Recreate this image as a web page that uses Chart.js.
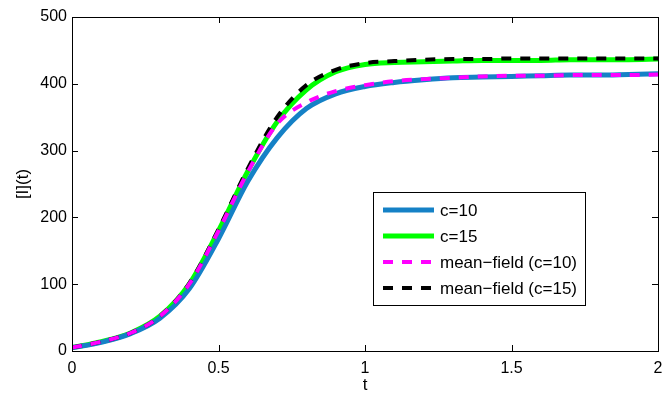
<!DOCTYPE html>
<html>
<head>
<meta charset="UTF-8">
<title>[I](t)</title>
<script src="https://cdn.jsdelivr.net/npm/chart.js"></script>
<style>
  html, body { margin: 0; padding: 0; background: #fff; }
  #wrap { width: 665px; height: 394px; }
</style>
</head>
<body>
<div id="wrap"><canvas id="chart" width="665" height="394"></canvas></div>
<script>
  // values
  const tVals = [0, 0.1, 0.2, 0.3, 0.4, 0.5, 0.6, 0.7, 0.8, 0.9, 1.0,
                 1.1, 1.2, 1.3, 1.4, 1.5, 1.6, 1.7, 1.8, 1.9, 2.0];
  const c10  = [5, 13, 26, 49, 93, 168, 254, 319, 363, 385, 396,
                402, 406, 409, 410, 411, 412, 413, 413, 414, 415];
  const c15  = [5, 14, 27, 52, 100, 180, 269, 343, 391, 418, 429,
                432, 433, 434, 435, 435, 435, 436, 436, 436, 437];
  const mf10 = [5, 14, 27, 52, 100, 180, 268, 340, 372, 389, 398,
                404, 407, 409, 411, 412, 412, 413, 413, 413, 414];
  const mf15 = [5, 14, 27, 52, 101, 182, 273, 350, 398, 421, 431,
                434, 436, 437, 437, 438, 438, 438, 438, 438, 438];
  const xTicks = [0, 0.5, 1, 1.5, 2];
  const yTicks = [0, 100, 200, 300, 400, 500];

  const FONT = '"Liberation Sans", Arial, Helvetica, sans-serif';
  const pts = arr => tVals.map((t, i) => ({ x: t, y: arr[i] }));

  // box round the plot with inward ticks on all four sides (matlab look)
  const frame = {
    id: 'frame',
    afterDatasetsDraw(chart) {
      const { ctx, chartArea: a, scales: { x, y } } = chart;
      ctx.save();
      ctx.strokeStyle = '#000';
      ctx.lineWidth = 1;
      ctx.beginPath();
      xTicks.forEach(v => {
        const px = Math.round(x.getPixelForValue(v)) + 0.5;
        ctx.moveTo(px, a.bottom); ctx.lineTo(px, a.bottom - 6);
        ctx.moveTo(px, a.top); ctx.lineTo(px, a.top + 6);
      });
      yTicks.forEach(v => {
        const py = Math.round(y.getPixelForValue(v)) + 0.5;
        ctx.moveTo(a.left, py); ctx.lineTo(a.left + 6, py);
        ctx.moveTo(a.right, py); ctx.lineTo(a.right - 6, py);
      });
      ctx.stroke();
      ctx.strokeRect(Math.round(a.left) + 0.5, Math.round(a.top) + 0.5,
                     Math.round(a.right - a.left), Math.round(a.bottom - a.top));
      ctx.restore();
    }
  };

  // legend inside the plot
  const legendBox = {
    id: 'legendBox',
    afterDraw(chart) {
      const { ctx } = chart;
      const ds = chart.data.datasets;
      ctx.save();
      ctx.font = '17px ' + FONT;
      const tw = Math.max(...ds.map(d => ctx.measureText(d.label).width));
      const x0 = 373, y0 = 192, rowH = 26, lineLen = 51;
      const w = Math.round(10 + lineLen + 6 + tw + 8), h = 113;
      ctx.fillStyle = '#fff';
      ctx.fillRect(x0, y0, w, h);
      ctx.strokeStyle = '#000';
      ctx.lineWidth = 1;
      ctx.strokeRect(x0 + 0.5, y0 + 0.5, w, h);
      ds.forEach((d, i) => {
        const yy = y0 + 18 + i * rowH;
        ctx.beginPath();
        ctx.strokeStyle = d.borderColor;
        ctx.lineWidth = d.borderWidth;
        ctx.setLineDash(d.borderDash || []);
        ctx.moveTo(x0 + 10, yy);
        ctx.lineTo(x0 + 10 + lineLen, yy);
        ctx.stroke();
        ctx.setLineDash([]);
        ctx.fillStyle = '#000';
        ctx.textBaseline = 'middle';
        ctx.fillText(d.label, x0 + 10 + lineLen + 6, yy + 1);
      });
      ctx.restore();
    }
  };

  new Chart(document.getElementById('chart'), {
    type: 'line',
    data: {
      datasets: [
        { label: 'c=10', data: pts(c10), borderColor: '#1581c6', borderWidth: 5, order: 2 },
        { label: 'c=15', data: pts(c15), borderColor: '#00ff00', borderWidth: 5, order: 2 },
        { label: 'mean\u2212field (c=10)', data: pts(mf10), borderColor: '#ff00ff',
          borderWidth: 4, borderDash: [10, 9], order: 1 },
        { label: 'mean\u2212field (c=15)', data: pts(mf15), borderColor: '#000000',
          borderWidth: 4, borderDash: [10, 9], order: 1 }
      ]
    },
    options: {
      responsive: false,
      animation: false,
      devicePixelRatio: 1,
      layout: { padding: { top: 17, right: 7, left: 0, bottom: 0 } },
      elements: {
        point: { radius: 0 },
        line: { cubicInterpolationMode: 'monotone', fill: false, borderCapStyle: 'butt' }
      },
      plugins: { legend: { display: false }, tooltip: { enabled: false } },
      scales: {
        x: {
          type: 'linear', min: 0, max: 2,
          afterBuildTicks: s => { s.ticks = xTicks.map(v => ({ value: v })); },
          afterFit: s => { s.height = 43; s.paddingLeft = 0; s.paddingRight = 0; },
          grid: { display: false, drawTicks: false },
          border: { display: false },
          ticks: { color: '#000', padding: 8, font: { family: FONT, size: 16 },
                   callback: v => String(v) },
          title: { display: true, text: 't', color: '#000',
                   font: { family: FONT, size: 17, lineHeight: 1 }, padding: { top: 0, bottom: 0 } }
        },
        y: {
          min: 0, max: 500,
          afterBuildTicks: s => { s.ticks = yTicks.map(v => ({ value: v })); },
          afterFit: s => { s.width = 72; s.paddingTop = 0; s.paddingBottom = 0; },
          grid: { display: false, drawTicks: false },
          border: { display: false },
          ticks: { color: '#000', padding: 5, font: { family: FONT, size: 16 },
                   callback: v => String(v) },
          title: { display: true, text: '[I](t)', color: '#000',
                   font: { family: FONT, size: 17, lineHeight: 1 }, padding: { top: 15, bottom: 0 } }
        }
      }
    },
    plugins: [frame, legendBox]
  });
</script>
</body>
</html>
